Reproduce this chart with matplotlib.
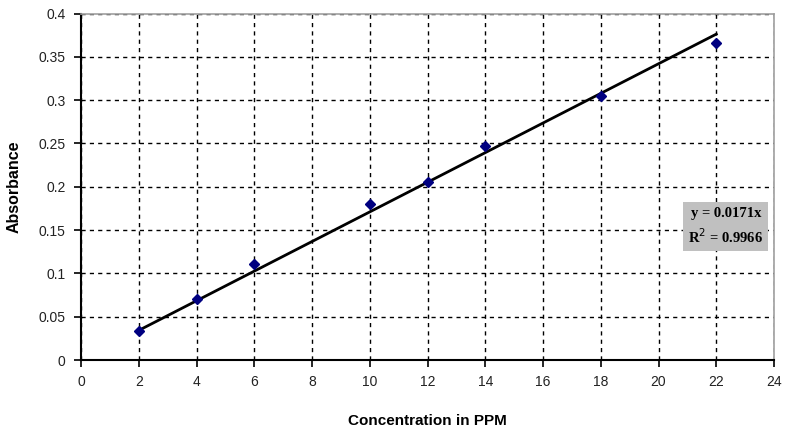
import matplotlib
matplotlib.use("Agg")
import matplotlib.pyplot as plt
import numpy as np

conc = [2, 4, 6, 10, 12, 14, 18, 22]
absorb = [0.0338, 0.0704, 0.111, 0.180, 0.2055, 0.247, 0.305, 0.366]
slope = 0.0171
r2 = 0.9966
x_ticks = list(range(0, 25, 2))
y_ticks = [0, 0.05, 0.1, 0.15, 0.2, 0.25, 0.3, 0.35, 0.4]
y_tick_labels = ["0", "0.05", "0.1", "0.15", "0.2", "0.25", "0.3", "0.35", "0.4"]

fig = plt.figure(figsize=(7.92, 4.29), dpi=100)
ax = fig.add_axes([0.1023, 0.1608, 0.875, 0.8077])

ax.set_xlim(0, 24)
ax.set_ylim(0, 0.4)
ax.set_xticks(x_ticks)
ax.set_yticks(y_ticks)
ax.set_yticklabels(y_tick_labels)
ax.grid(True, color="black", linestyle=(0, (3, 3)), linewidth=1.0)
ax.set_axisbelow(True)

for s in ["top", "right"]:
    ax.spines[s].set_color("#a0a0a0")
    ax.spines[s].set_linewidth(1.2)
for s in ["left", "bottom"]:
    ax.spines[s].set_color("black")
    ax.spines[s].set_linewidth(1.5)

ax.tick_params(axis="both", direction="out", length=5, width=1.2, color="black",
               labelsize=10, pad=6)
for lab in ax.get_xticklabels() + ax.get_yticklabels():
    lab.set_fontfamily("Liberation Sans")
    lab.set_color("#222222")

xf = np.array([conc[0], conc[-1]])
ax.plot(xf, slope * xf, color="black", linewidth=2.0, zorder=3)
ax.plot(conc, absorb, linestyle="none", marker="D", markersize=5.5,
        color="#000080", zorder=4)

ax.set_xlabel("Concentration in PPM", fontsize=11, fontweight="bold",
              family=["Liberation Sans Narrow", "Liberation Sans"], labelpad=18)
ax.set_ylabel("Absorbance", fontsize=11.5, fontweight="bold",
              family=["Liberation Sans Narrow", "Liberation Sans"], labelpad=12)

ax.text(22.33, 0.154, "y = 0.0171x\nR$^2$ = 0.9966", ha="center", va="center",
        fontsize=10.5, fontweight="bold", family="Liberation Serif",
        linespacing=1.45,
        bbox=dict(boxstyle="square,pad=0.35", facecolor="#c0c0c0", edgecolor="none"),
        zorder=5)

fig.savefig("out.png", dpi=100, facecolor="white")
